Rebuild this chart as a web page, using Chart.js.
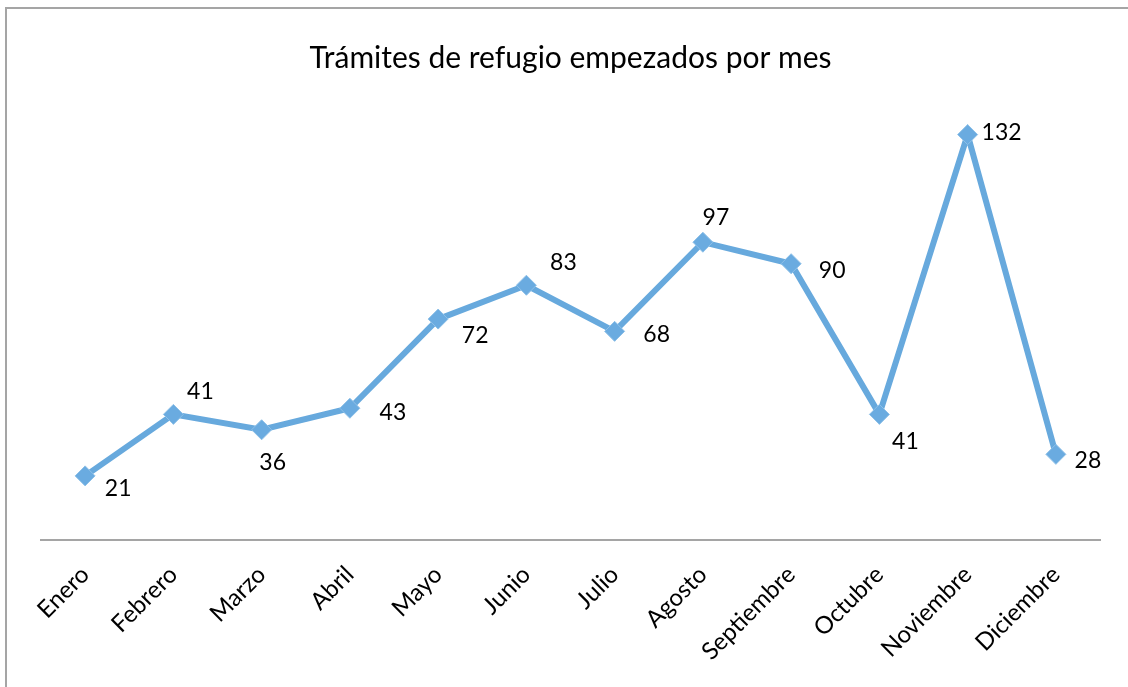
<!DOCTYPE html>
<html>
<head>
<meta charset="utf-8">
<script src="https://cdn.jsdelivr.net/npm/chart.js@4"></script>
<style>
  html, body { margin: 0; padding: 0; background: #fff; }
  #wrap { position: relative; width: 1128px; height: 687px; }
</style>
</head>
<body>
<div id="wrap"><canvas id="lineChart" width="1128" height="687"></canvas></div>
<script>
// Data
const months = ['Enero', 'Febrero', 'Marzo', 'Abril', 'Mayo', 'Junio', 'Julio',
  'Agosto', 'Septiembre', 'Octubre', 'Noviembre', 'Diciembre'];
const tramites = [21, 41, 36, 43, 72, 83, 68, 97, 90, 41, 132, 28];

// Where each value label sits relative to its point (px)
const labelOffsets = [
  [33, 13], [27, -23], [11, 33], [43, 4], [37, 17], [37, -23],
  [42, 3], [13, -25], [41, 7], [26, 27], [34, -2], [32, 6]
];

const FONT = "Lato, 'Open Sans', sans-serif";
const LINE_BLUE = '#67A9DD';

// outer frame (only top/left edges fall inside the picture)
const framePlugin = {
  id: 'frame',
  beforeDraw(chart) {
    const ctx = chart.ctx;
    ctx.save();
    ctx.fillStyle = '#fff';
    ctx.fillRect(0, 0, chart.width, chart.height);
    ctx.strokeStyle = '#A5A5A5';
    ctx.lineWidth = 2;
    ctx.strokeRect(6, 8, chart.width + 50, chart.height + 50);
    ctx.restore();
  }
};

// value labels next to each point
const valueLabels = {
  id: 'valueLabels',
  afterDatasetsDraw(chart) {
    const ctx = chart.ctx;
    const meta = chart.getDatasetMeta(0);
    ctx.save();
    ctx.font = '23px ' + FONT;
    ctx.fillStyle = '#000';
    ctx.textAlign = 'center';
    ctx.textBaseline = 'middle';
    meta.data.forEach((pt, i) => {
      const off = labelOffsets[i];
      ctx.fillText(String(tramites[i]), pt.x + off[0], pt.y + off[1]);
    });
    ctx.restore();
  }
};

new Chart(document.getElementById('lineChart'), {
  type: 'line',
  data: {
    labels: months,
    datasets: [{
      data: tramites,
      borderColor: LINE_BLUE,
      backgroundColor: LINE_BLUE,
      borderWidth: 6,
      pointStyle: 'rectRot',
      pointRadius: 10,
      pointBorderWidth: 1,
      pointBorderColor: '#8EC0E8',
      pointBackgroundColor: '#6AABE0',
      tension: 0,
      clip: false
    }]
  },
  options: {
    responsive: false,
    animation: false,
    devicePixelRatio: 1,
    layout: { padding: { left: 41, right: 28, top: 0, bottom: 1 } },
    plugins: {
      legend: { display: false },
      tooltip: { enabled: false },
      title: {
        display: true,
        text: 'Trámites de refugio empezados por mes',
        color: '#000',
        font: { family: FONT, size: 30, weight: 'normal' },
        padding: { top: 40, bottom: 34 }
      }
    },
    scales: {
      x: {
        offset: true,
        grid: { display: false, drawTicks: false },
        border: { display: true, color: '#A5A5A5', width: 2 },
        ticks: {
          color: '#000',
          font: { family: FONT, size: 24 },
          minRotation: 45,
          maxRotation: 45,
          padding: 20
        }
      },
      y: {
        display: false,
        min: 0,
        max: 140
      }
    }
  },
  plugins: [framePlugin, valueLabels]
});
</script>
</body>
</html>
